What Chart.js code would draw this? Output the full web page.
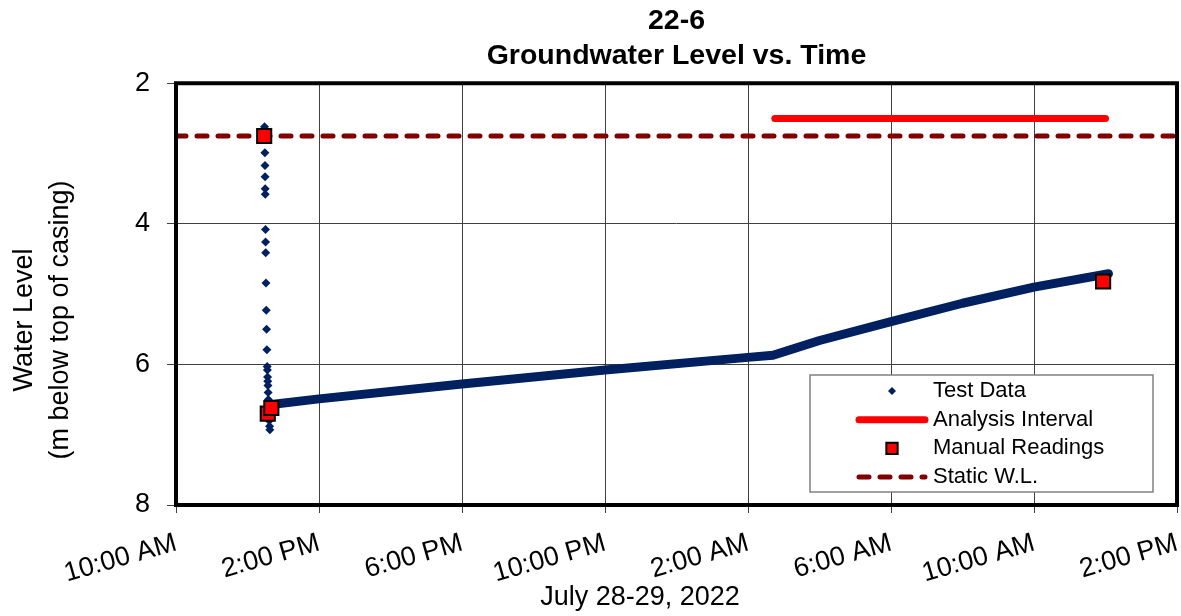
<!DOCTYPE html>
<html>
<head>
<meta charset="utf-8">
<title>22-6 Groundwater Level vs. Time</title>
<script src="https://cdn.jsdelivr.net/npm/chart.js@4.4.1/dist/chart.umd.min.js"></script>
<style>
  html, body { margin: 0; padding: 0; background: #fff; }
  #wrap { width: 1181px; height: 616px; }
</style>
</head>
<body>
<div id="wrap"><canvas id="grafico"></canvas></div>
<script>
// times are "MM-DD hh:mm[:ss]" (2022), levels in m below top of casing
const drawdownTimes = [
  "07-28 12:28:30", "07-28 12:29:00", "07-28 12:29:10", "07-28 12:29:20", "07-28 12:29:30",
  "07-28 12:29:40", "07-28 12:29:50", "07-28 12:30:10", "07-28 12:30:20", "07-28 12:30:30",
  "07-28 12:31:00", "07-28 12:31:30", "07-28 12:32:00", "07-28 12:32:30", "07-28 12:33:00",
  "07-28 12:33:20", "07-28 12:33:40", "07-28 12:34:00", "07-28 12:34:20", "07-28 12:34:40",
  "07-28 12:35:00", "07-28 12:35:30", "07-28 12:36:00", "07-28 12:36:30", "07-28 12:37:00",
  "07-28 12:37:30"
];
const drawdownLevels = [
  2.62, 2.75, 2.99, 3.17, 3.33,
  3.50, 3.58, 4.08, 4.26, 4.41,
  4.84, 5.23, 5.50, 5.79, 6.03,
  6.08, 6.18, 6.24, 6.30, 6.40,
  6.50, 6.61, 6.72, 6.80, 6.88,
  6.93
];
const recoveryTimes = [
  "07-28 12:40", "07-28 14:00", "07-28 18:00", "07-28 22:00", "07-29 02:00",
  "07-29 02:42", "07-29 04:00", "07-29 06:00", "07-29 08:00", "07-29 10:00",
  "07-29 12:05"
];
const recoveryLevels = [
  6.57, 6.49, 6.28, 6.08, 5.90,
  5.87, 5.66, 5.39, 5.13, 4.90,
  4.71
];
const manualTimes = ["07-28 12:28", "07-28 12:34", "07-28 12:40", "07-29 11:56"];
const manualLevels = [2.75, 6.70, 6.62, 4.82];
const intervalTimes = ["07-29 02:45", "07-29 12:00"];
const intervalLevels = [2.50, 2.50];
const staticTimes = ["07-28 10:00", "07-29 14:00"];
const staticLevels = [2.75, 2.75];

const xTickLabels = ["10:00 AM", "2:00 PM", "6:00 PM", "10:00 PM", "2:00 AM", "6:00 AM", "10:00 AM", "2:00 PM"];
const yTicks = [2, 4, 6, 8];

const FONT = '"Liberation Sans", Arial, sans-serif';
const NAVY = "#002060";

// hours since 10:00 AM on July 28
function horas(t) {
  const [fecha, hora] = t.split(" ");
  const dia = parseInt(fecha.split("-")[1], 10);
  const [h, m, s] = hora.split(":").map(Number);
  return (dia - 28) * 24 + h + m / 60 + (s || 0) / 3600 - 10;
}
function puntos(tiempos, niveles) {
  return tiempos.map((t, i) => ({ x: horas(t), y: niveles[i] }));
}

const marco = {
  id: "marco",
  afterDatasetsDraw(chart) {
    const { ctx, chartArea: a } = chart;
    ctx.save();
    ctx.strokeStyle = "#000";
    ctx.lineWidth = 4;
    ctx.strokeRect(a.left, a.top, a.right - a.left, a.bottom - a.top);
    ctx.restore();
  }
};

const titulosEjes = {
  id: "titulosEjes",
  afterDraw(chart) {
    const ctx = chart.ctx;
    ctx.save();
    ctx.fillStyle = "#000";
    ctx.font = "27px " + FONT;
    ctx.textAlign = "center";
    ctx.textBaseline = "middle";
    ctx.fillText("July 28-29, 2022", 640, 598);
    ctx.translate(0, 320);
    ctx.rotate(-Math.PI / 2);
    ctx.fillText("Water Level", 0, 25);
    ctx.fillText("(m below top of casing)", 0, 61);
    ctx.restore();
  }
};

const leyenda = {
  id: "leyenda",
  afterDraw(chart) {
    const { ctx, chartArea: a } = chart;
    const ds = chart.data.datasets;
    const w = 343, h = 117;
    const x0 = a.right - 24 - w, y0 = a.bottom - 13 - h;
    ctx.save();
    ctx.fillStyle = "#fff";
    ctx.fillRect(x0, y0, w, h);
    ctx.strokeStyle = "#808080";
    ctx.lineWidth = 1.5;
    ctx.strokeRect(x0, y0, w, h);

    const linea = (d, y) => {
      ctx.save();
      ctx.strokeStyle = d.borderColor;
      ctx.lineWidth = d.borderWidth;
      ctx.lineCap = d.borderCapStyle || "butt";
      ctx.setLineDash(d.borderDash || []);
      ctx.beginPath();
      ctx.moveTo(x0 + 49, y);
      ctx.lineTo(x0 + 115, y);
      ctx.stroke();
      ctx.restore();
    };
    const punto = (d, y) => {
      ctx.save();
      ctx.fillStyle = d.pointBackgroundColor;
      ctx.strokeStyle = d.pointBorderColor || d.pointBackgroundColor;
      ctx.lineWidth = d.pointBorderWidth || 0;
      Chart.helpers.drawPoint(ctx, {
        pointStyle: d.pointStyle, radius: d.legendRadius || d.pointRadius,
        borderWidth: d.pointBorderWidth || 0, rotation: 0
      }, x0 + 82, y);
      ctx.restore();
    };
    const filas = [
      { d: ds[2], tipo: punto },
      { d: ds[1], tipo: linea },
      { d: ds[0], tipo: punto },
      { d: ds[4], tipo: linea }
    ];
    ctx.font = "22px " + FONT;
    ctx.textBaseline = "middle";
    filas.forEach((f, i) => {
      const y = y0 + 16 + i * 28.7;
      f.tipo(f.d, y);
      ctx.fillStyle = "#000";
      ctx.fillText(f.d.label, x0 + 123, y);
    });
    ctx.restore();
  }
};

Chart.defaults.font.family = FONT;
Chart.defaults.color = "#000";

const ctx = document.getElementById("grafico").getContext("2d");
new Chart(ctx, {
  type: "scatter",
  data: {
    datasets: [
      {
        label: "Manual Readings",
        data: puntos(manualTimes, manualLevels),
        showLine: false,
        pointStyle: "rect",
        pointRadius: 10,
        legendRadius: 8,
        pointBackgroundColor: "#FF0000",
        pointBorderColor: "#000",
        pointBorderWidth: 2,
        order: 0
      },
      {
        label: "Analysis Interval",
        data: puntos(intervalTimes, intervalLevels),
        showLine: true,
        borderColor: "#FF0000",
        borderWidth: 7,
        borderCapStyle: "round",
        pointRadius: 0,
        order: 1
      },
      {
        label: "Test Data",
        data: puntos(drawdownTimes, drawdownLevels),
        showLine: false,
        pointStyle: "rectRot",
        pointRadius: 4.5,
        legendRadius: 4,
        pointBackgroundColor: NAVY,
        pointBorderColor: NAVY,
        pointBorderWidth: 0,
        order: 2
      },
      {
        label: "Test Data",
        data: puntos(recoveryTimes, recoveryLevels),
        showLine: true,
        borderColor: NAVY,
        borderWidth: 9,
        borderJoinStyle: "round",
        borderCapStyle: "round",
        pointRadius: 0,
        order: 2
      },
      {
        label: "Static W.L.",
        data: puntos(staticTimes, staticLevels),
        showLine: true,
        borderColor: "#800000",
        borderWidth: 5,
        borderDash: [10, 11],
        borderCapStyle: "round",
        pointRadius: 0,
        order: 3
      }
    ]
  },
  options: {
    responsive: true,
    maintainAspectRatio: false,
    animation: false,
    events: [],
    layout: { autoPadding: false, padding: { left: 0, right: 4, top: 0, bottom: 0 } },
    plugins: {
      legend: { display: false },
      tooltip: { enabled: false },
      title: {
        display: true,
        fullSize: false,
        text: ["22-6", "Groundwater Level vs. Time"],
        font: { size: 28.5, weight: "bold", lineHeight: 1.25 },
        color: "#000",
        padding: { top: 3, bottom: 9 }
      }
    },
    scales: {
      x: {
        type: "linear",
        min: 0,
        max: 28,
        afterBuildTicks: (s) => { s.ticks = xTickLabels.map((_, i) => ({ value: i * 4 })); },
        afterFit: (s) => { s.height = 111; s.paddingRight = 0; },
        ticks: {
          autoSkip: false,
          minRotation: 16,
          maxRotation: 16,
          padding: 14,
          font: { size: 27 },
          color: "#000",
          callback: (v, i) => xTickLabels[i]
        },
        grid: { color: "#404040", lineWidth: 1, tickLength: 8 },
        border: { display: false }
      },
      y: {
        type: "linear",
        reverse: true,
        min: 2,
        max: 8,
        afterBuildTicks: (s) => { s.ticks = yTicks.map((v) => ({ value: v })); },
        afterFit: (s) => { s.width = 176; },
        ticks: {
          padding: 17,
          font: { size: 27 },
          color: "#000"
        },
        grid: { color: "#404040", lineWidth: 1, tickLength: 9 },
        border: { display: false }
      }
    }
  },
  plugins: [marco, leyenda, titulosEjes]
});
</script>
</body>
</html>
